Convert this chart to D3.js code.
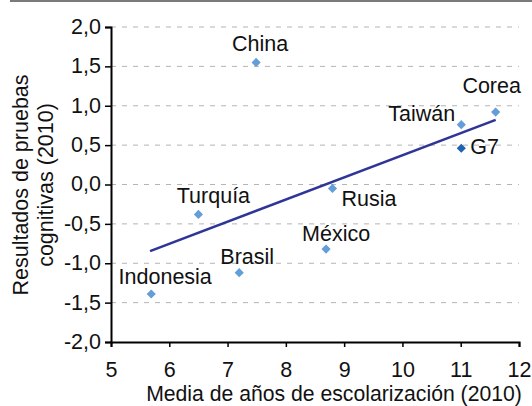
<!DOCTYPE html>
<html>
<head>
<meta charset="utf-8">
<script src="https://cdn.jsdelivr.net/npm/d3@7"></script>
<style>
  body { margin: 0; background: #fff; }
  text { font-family: "Liberation Sans", Arial, sans-serif; fill: #111; }
</style>
</head>
<body>
<script>
// data
const countries = ["China", "Turquía", "Indonesia", "Brasil", "México", "Rusia", "Taiwán", "G7", "Corea"]
const schooling = [7.49, 6.50, 5.69, 7.20, 8.69, 8.80, 11.01, 11.01, 11.60]
const scores = [1.55, -0.38, -1.39, -1.12, -0.82, -0.05, 0.76, 0.46, 0.92]
const trendX = [5.67, 11.6]
const trendY = [-0.845, 0.82]
const xTicks = [5, 6, 7, 8, 9, 10, 11, 12]
const yTicks = [-2, -1.5, -1, -0.5, 0, 0.5, 1, 1.5, 2]

const width = 532, height = 406
const margin = {top: 27, right: 13, bottom: 64, left: 111}
const innerW = width - margin.left - margin.right
const innerH = height - margin.top - margin.bottom
const fontSize = 21.5

const svg = d3.select("body").append("svg")
    .attr("width", width)
    .attr("height", height)

// thin rule across the top
svg.append("line")
    .attr("x1", 10).attr("x2", width)
    .attr("y1", 1).attr("y2", 1)
    .attr("stroke", "#7a7a7a")
    .attr("stroke-width", 2)

const g = svg.append("g")
    .attr("transform", "translate(" + margin.left + "," + margin.top + ")")

let xScale = d3.scaleLinear().domain([5, 12]).range([0, innerW]),
    yScale = d3.scaleLinear().domain([-2, 2]).range([innerH, 0])

const fmt = d => d3.format(".1f")(d).replace(".", ",").replace("−", "-")

// dashed grid
g.append("g")
    .selectAll("line")
    .data(yTicks.filter(d => d > -2))
    .enter()
    .append("line")
      .attr("x1", 0)
      .attr("x2", innerW)
      .attr("y1", d => yScale(d))
      .attr("y2", d => yScale(d))
      .attr("stroke", "#b4b4b4")
      .attr("stroke-width", 1)
      .attr("stroke-dasharray", "5,6")

// y axis
let yAxis = g.append("g")
    .call(d3.axisLeft(yScale).tickValues(yTicks).tickSize(6).tickPadding(4).tickFormat(fmt))
yAxis.select(".domain").attr("stroke", "#000").attr("stroke-width", 2)
yAxis.selectAll(".tick line").attr("stroke", "#000").attr("stroke-width", 1.5)
yAxis.selectAll(".tick text")
    .attr("font-size", fontSize)
    .attr("dy", "0.3em")
    .style("font-family", "Liberation Sans, Arial, sans-serif")
    .attr("fill", "#111")

// x axis
let xAxis = g.append("g")
    .attr("transform", "translate(0," + innerH + ")")
    .call(d3.axisBottom(xScale).tickValues(xTicks).tickSize(5).tickPadding(15).tickFormat(d3.format("d")))
xAxis.select(".domain").attr("stroke", "#000").attr("stroke-width", 2)
xAxis.selectAll(".tick line").attr("stroke", "#000").attr("stroke-width", 1.5)
xAxis.selectAll(".tick text")
    .attr("font-size", fontSize)
    .style("font-family", "Liberation Sans, Arial, sans-serif")
    .attr("fill", "#111")

// axis titles
svg.append("text")
    .attr("x", 334)
    .attr("y", 401)
    .attr("text-anchor", "middle")
    .attr("font-size", 21.2)
    .text("Media de años de escolarización (2010)")

let yTitle = svg.append("text")
    .attr("transform", "translate(28,185) rotate(-90)")
    .attr("text-anchor", "middle")
    .attr("font-size", fontSize)
yTitle.append("tspan").attr("x", 0).attr("y", 0).text("Resultados de pruebas")
yTitle.append("tspan").attr("x", 0).attr("y", 25).text("cognitivas (2010)")

// trend line
g.append("line")
    .attr("x1", xScale(trendX[0]))
    .attr("y1", yScale(trendY[0]))
    .attr("x2", xScale(trendX[1]))
    .attr("y2", yScale(trendY[1]))
    .attr("stroke", "#2f3596")
    .attr("stroke-width", 2.5)

// points
const points = countries.map((c, i) => ({name: c, x: schooling[i], y: scores[i]}))

g.append("g")
    .selectAll("path")
    .data(points)
    .enter()
    .append("path")
      .attr("d", d3.symbol().type(d3.symbolSquare).size(42))
      .attr("transform", d => "translate(" + xScale(d.x) + "," + yScale(d.y) + ") rotate(45)")
      .attr("fill", d => d.name == "G7" ? "#1f62b0" : "#639ed8")

// label placement, relative to each point
const labelPlace = {
    "China":     {dx: 4,   dy: -11, anchor: "middle"},
    "Turquía":   {dx: 15,  dy: -11, anchor: "middle"},
    "Indonesia": {dx: 14,  dy: -10, anchor: "middle"},
    "Brasil":    {dx: 8,   dy: -9,  anchor: "middle"},
    "México":    {dx: 10,  dy: -8,  anchor: "middle"},
    "Rusia":     {dx: 9,   dy: 18,  anchor: "start"},
    "Taiwán":    {dx: -6,  dy: -4,  anchor: "end"},
    "G7":        {dx: 9,   dy: 6,   anchor: "start"},
    "Corea":     {dx: -4,  dy: -19, anchor: "middle"}
}

g.append("g")
    .selectAll("text")
    .data(points)
    .enter()
    .append("text")
      .attr("x", d => xScale(d.x) + labelPlace[d.name].dx)
      .attr("y", d => yScale(d.y) + labelPlace[d.name].dy)
      .attr("text-anchor", d => labelPlace[d.name].anchor)
      .attr("font-size", fontSize)
      .text(d => d.name)
</script>
</body>
</html>
